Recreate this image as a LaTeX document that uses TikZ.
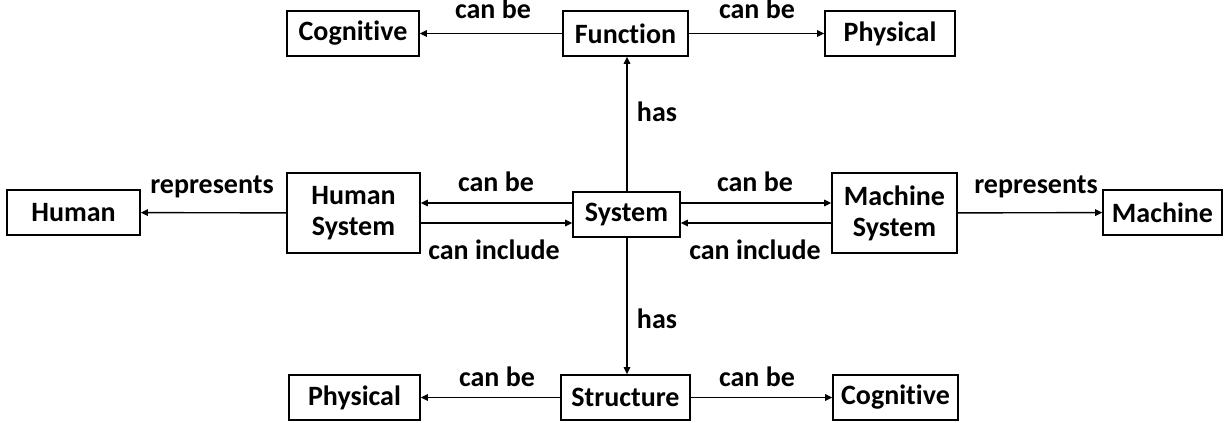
\documentclass[tikz,border=0pt]{standalone}
\usepackage{fontspec}
\setmainfont{Carlito}[RawFeature={-liga}]
\usetikzlibrary{arrows.meta}
\begin{document}
\begin{tikzpicture}[x=1pt,y=-1pt,
  box/.style={draw,line width=1.6pt,inner sep=0pt,align=center,font=\fontsize{28}{31}\selectfont\bfseries},
  lbl/.style={anchor=base,inner sep=0pt,font=\fontsize{28}{31}\selectfont\bfseries},
  arr/.style={line width=1.4pt,-{Triangle[length=7pt,width=6.5pt]}}]
\useasboundingbox (0,0) rectangle (1227,423);
% boxes
\node[box,minimum width=132pt,minimum height=45pt] (cogT) at (353,33.5) {Cognitive};
\node[box,minimum width=125pt,minimum height=45pt] (func) at (625.5,33.5) {Function};
\node[box,minimum width=130pt,minimum height=45pt] (physT) at (890,33.5) {Physical};
\node[box,minimum width=133pt,minimum height=45pt] (human) at (73.5,212.5) {Human};
\node[box,minimum width=133pt,minimum height=80pt] (hsys) at (353.5,213) {Human\\System};
\node[box,minimum width=107pt,minimum height=45pt] (sys) at (626.5,214.5) {System};
\node[box,minimum width=125pt,minimum height=80pt] (msys) at (894.5,213) {Machine\\System};
\node[box,minimum width=119pt,minimum height=45pt] (mach) at (1162.5,212.5) {Machine};
\node[box,minimum width=131pt,minimum height=45pt] (physB) at (354.5,397.5) {Physical};
\node[box,minimum width=129pt,minimum height=45pt] (struct) at (625.5,397.5) {Structure};
\node[box,minimum width=125pt,minimum height=45pt] (cogB) at (895.5,397.5) {Cognitive};
% helper coordinates
\coordinate (yA) at (0,203);
\coordinate (yB) at (0,223);
\coordinate (xS) at (627,0);
% connectors
\draw[arr] (func) -- (cogT);
\draw[arr] (func) -- (physT);
\draw[arr] (sys.north -| xS) -- (func.south -| xS);
\draw[arr] (sys.south -| xS) -- (struct.north -| xS);
\draw[arr] (sys.west |- yA) -- (hsys.east |- yA);
\draw[arr] (hsys.east |- yB) -- (sys.west |- yB);
\draw[arr] (sys.east |- yA) -- (msys.west |- yA);
\draw[arr] (msys.west |- yB) -- (sys.east |- yB);
\draw[arr] (hsys) -- (human);
\draw[arr] (msys) -- (mach);
\draw[arr] (struct) -- (physB);
\draw[arr] (struct) -- (cogB);
% labels
\node[lbl] (l1) at (493,19) {can be};
\node[lbl] (l2) at (757,19) {can be};
\node[lbl] (l3) at (657,121) {has};
\node[lbl] (l4) at (657,328) {has};
\node[lbl] (l5) at (212,193) {represents};
\node[lbl] (l6) at (1036,193) {represents};
\node[lbl] (l7) at (496,191) {can be};
\node[lbl] (l8) at (755,191) {can be};
\node[lbl] (l9) at (494,259) {can include};
\node[lbl] (l10) at (755,259) {can include};
\node[lbl] (l11) at (497,386) {can be};
\node[lbl] (l12) at (757,386) {can be};
\end{tikzpicture}
\end{document}
